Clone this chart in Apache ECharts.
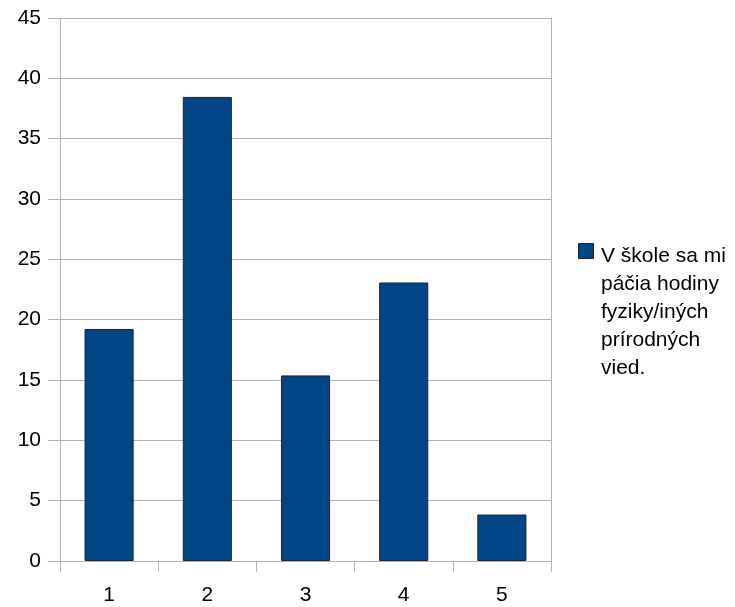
<!DOCTYPE html>
<html>
<head>
<meta charset="utf-8">
<script src="https://cdn.jsdelivr.net/npm/echarts@6/dist/echarts.min.js"></script>
<style>html,body{margin:0;padding:0;background:#fff}#c{width:735px;height:607px}</style>
</head>
<body>
<div id="c"></div>
<script>
var categories = ['1', '2', '3', '4', '5'];
var seriesName = 'V škole sa mi páčia hodiny fyziky/iných prírodných vied.';
var legendLines = ['V škole sa mi', 'páčia hodiny', 'fyziky/iných', 'prírodných', 'vied.'];
var values = [19.23, 38.46, 15.38, 23.08, 3.85];
var yTicks = [0, 5, 10, 15, 20, 25, 30, 35, 40, 45];

var FONT = '"Liberation Sans", Arial, sans-serif';
var chart = echarts.init(document.getElementById('c'), null, {renderer: 'canvas'});
chart.setOption({
  animation: false,
  backgroundColor: '#fff',
  grid: {left: 60, right: 184, top: 18, bottom: 46, containLabel: false},
  xAxis: {
    type: 'category',
    data: categories,
    boundaryGap: true,
    axisLine: {lineStyle: {color: '#b3b3b3', width: 1}},
    axisTick: {show: true, length: 11, alignWithLabel: false, lineStyle: {color: '#b3b3b3'}},
    axisLabel: {color: '#000', fontFamily: FONT, fontSize: 21, margin: 24}
  },
  yAxis: [{
    type: 'value',
    min: yTicks[0],
    max: yTicks[yTicks.length - 1],
    interval: 5,
    axisLine: {show: true, lineStyle: {color: '#b3b3b3', width: 1}},
    axisTick: {show: true, length: 12, lineStyle: {color: '#b3b3b3'}},
    splitLine: {show: true, lineStyle: {color: '#b3b3b3', width: 1}},
    axisLabel: {color: '#000', fontFamily: FONT, fontSize: 21, margin: 19}
  }, {
    type: 'value',
    position: 'right',
    min: yTicks[0],
    max: yTicks[yTicks.length - 1],
    interval: 5,
    axisLine: {show: true, lineStyle: {color: '#b3b3b3', width: 1}},
    axisTick: {show: false},
    splitLine: {show: false},
    axisLabel: {show: false}
  }],
  legend: {show: false},
  series: [{
    name: seriesName,
    type: 'bar',
    data: values,
    barWidth: '50%',
    itemStyle: {color: '#004586', borderColor: '#1a2533', borderWidth: 1}
  }],
  graphic: [
    {type: 'rect', left: 578, top: 243, shape: {width: 15, height: 15}, style: {fill: '#004586', stroke: '#1a2533', lineWidth: 1}},
    {type: 'text', left: 601, top: 242, style: {text: legendLines.join('\n'), font: '21px ' + FONT, fill: '#000', lineHeight: 28}}
  ]
});
</script>
</body>
</html>
